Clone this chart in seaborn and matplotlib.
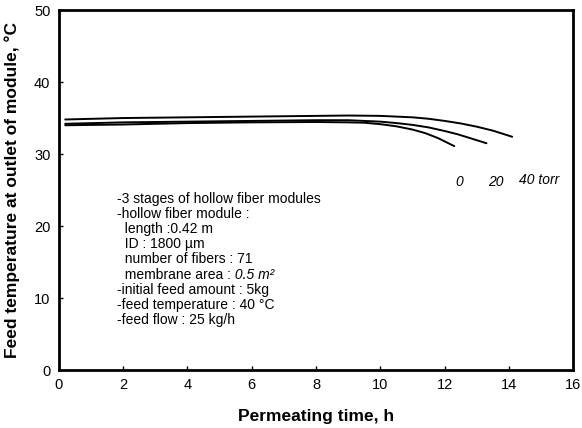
import pandas as pd
import seaborn as sns
import matplotlib.pyplot as plt

# permeate pressure (torr) -> time (h), outlet temperature (C)
t_0 = [0.2, 2, 4, 6, 8, 9, 9.5, 10, 10.5, 11, 11.4, 11.8, 12.3]
T_0 = [34.0, 34.1, 34.3, 34.4, 34.45, 34.4, 34.35, 34.15, 33.85, 33.4, 32.9, 32.2, 31.1]
t_20 = [0.2, 2, 4, 6, 8, 9, 10, 10.5, 11, 11.5, 12, 12.4, 12.8, 13.3]
T_20 = [34.2, 34.4, 34.5, 34.6, 34.7, 34.7, 34.5, 34.3, 34.05, 33.7, 33.2, 32.75, 32.2, 31.5]
t_40 = [0.2, 2, 4, 6, 8, 9, 10, 11, 11.5, 12, 12.5, 13, 13.5, 14.1]
T_40 = [34.8, 35.0, 35.1, 35.2, 35.3, 35.35, 35.3, 35.1, 34.9, 34.6, 34.25, 33.8, 33.25, 32.4]

x_ticks = [0, 2, 4, 6, 8, 10, 12, 14, 16]
y_ticks = [0, 10, 20, 30, 40, 50]

notes = ["-3 stages of hollow fiber modules",
         "-hollow fiber module :",
         "  length :0.42 m",
         "  ID : 1800 µm",
         "  number of fibers : 71",
         "  membrane area :",
         "-initial feed amount : 5kg",
         "-feed temperature : 40 °C",
         "-feed flow : 25 kg/h"]

df = pd.concat([
    pd.DataFrame({"time": t_0, "temp": T_0, "P": "0"}),
    pd.DataFrame({"time": t_20, "temp": T_20, "P": "20"}),
    pd.DataFrame({"time": t_40, "temp": T_40, "P": "40"}),
])

sns.set_style("ticks")
plt.rcParams["font.family"] = ["Liberation Sans", "DejaVu Sans"]
plt.rcParams["text.color"] = "black"
plt.rcParams["axes.labelcolor"] = "black"
plt.rcParams["xtick.color"] = "black"
plt.rcParams["ytick.color"] = "black"
plt.rcParams["axes.edgecolor"] = "black"

fig = plt.figure(figsize=(5.82, 4.28), dpi=100)
ax = fig.add_axes([0.101, 0.1355, 0.884, 0.841])

sns.lineplot(data=df, x="time", y="temp", hue="P", units="P", estimator=None,
             sort=False, palette=["black"] * 3, linewidth=1.4, legend=False, ax=ax)

ax.set_xlim(0, 16)
ax.set_ylim(0, 50)
ax.set_xticks(x_ticks)
ax.set_yticks(y_ticks)
ax.tick_params(direction="in", length=3, width=1, labelsize=10.5, pad=6)
for s in ax.spines.values():
    s.set_linewidth(2)
    s.set_visible(True)

ax.set_xlabel("Permeating time, h", fontsize=12.5, fontweight="bold", labelpad=12)
ax.set_ylabel("Feed temperature at outlet of module, °C",
              fontsize=12.5, fontweight="bold", labelpad=10)

for i, line in enumerate(notes):
    txt = ax.text(1.8, 23.2 - i * 2.1, line, fontsize=10, va="baseline", ha="left")
    if line.strip().startswith("membrane area"):
        ax.annotate(" 0.5 m²", xy=(1, 0), xycoords=txt, ha="left", va="bottom",
                    fontsize=10, fontstyle="italic")

ax.text(12.45, 25.6, "0", fontstyle="italic", fontsize=10, ha="center")
ax.text(13.6, 25.6, "20", fontstyle="italic", fontsize=10, ha="center")
ax.text(14.3, 25.8, "40 torr", fontstyle="italic", fontsize=10, ha="left")

fig.savefig("out.png", dpi=100)
